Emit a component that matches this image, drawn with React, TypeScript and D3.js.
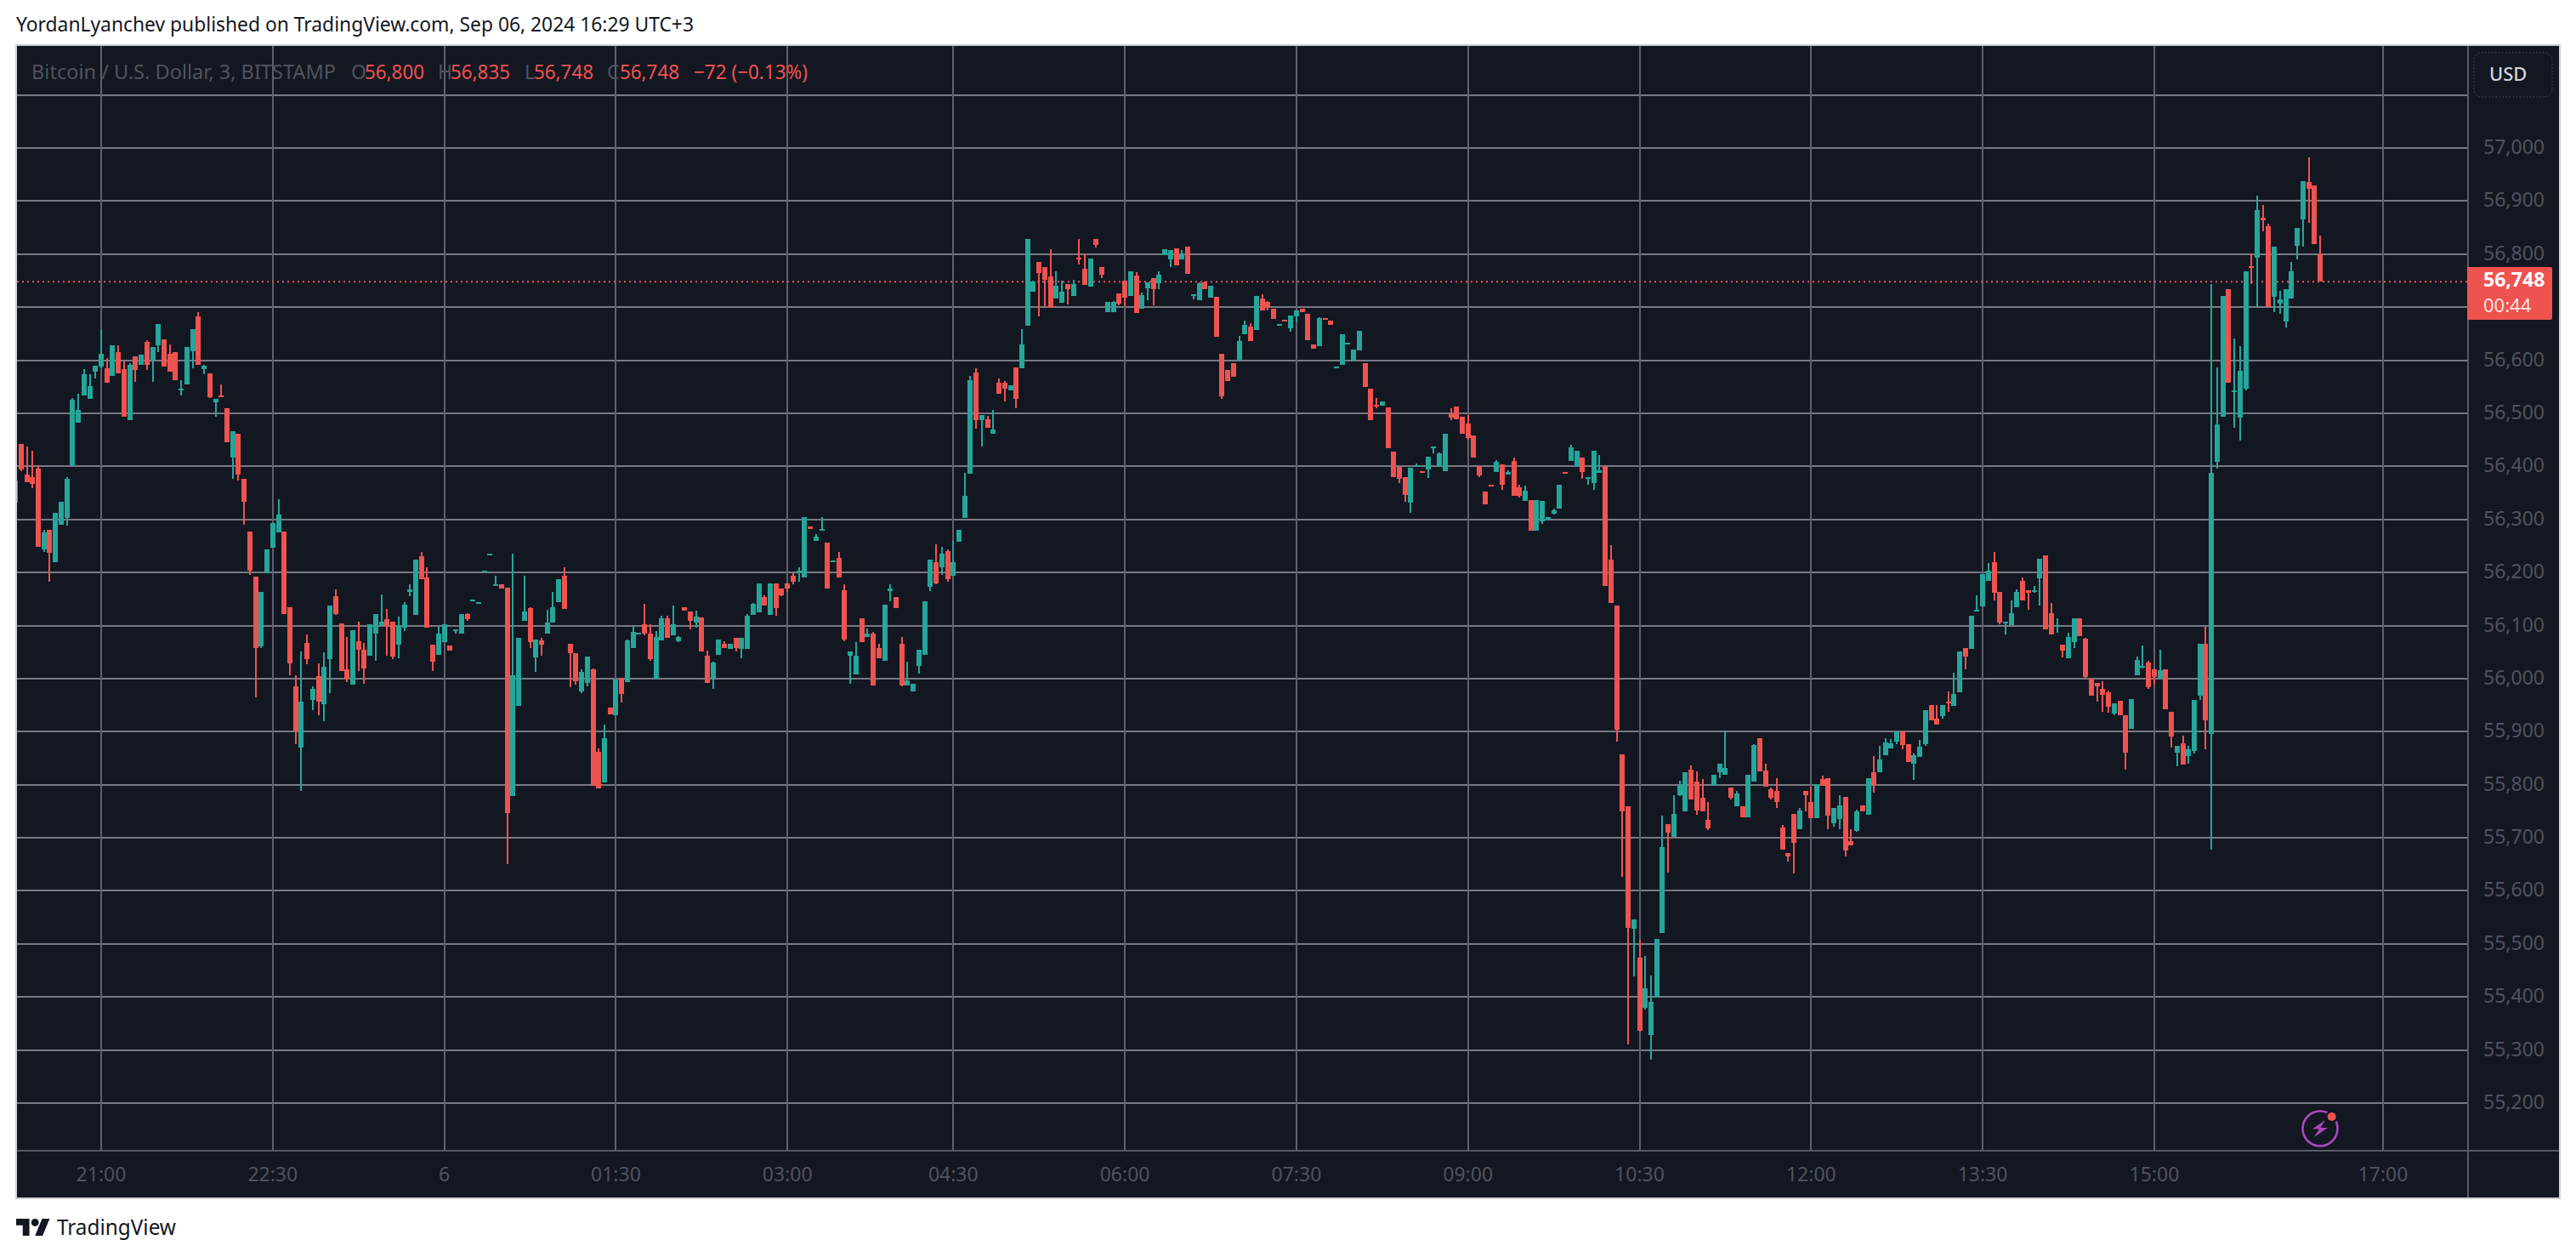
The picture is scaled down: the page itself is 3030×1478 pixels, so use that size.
import React from "react";
import * as d3 from "d3";

// Each row: [open, high, low, close]. One array per 90-minute stretch of 3-minute bars.
type Bar = [number, number, number, number];

const bars2015: Bar[] = [
  [56373,56373,56331,56331],[56442,56442,56391,56394],[56384,56437,56370,56370],[56380,56429,56359,56367],
  [56396,56402,56248,56249],[56244,56281,56238,56275],[56280,56280,56182,56237],[56220,56312,56220,56312],
  [56290,56334,56290,56334],[56302,56379,56289,56377],[56400,56528,56400,56525],[56483,56536,56483,56506],
  [56534,56583,56534,56574],[56527,56573,56527,56552],[56579,56590,56565,56589],
];
const bars2100: Bar[] = [
  [56588,56659,56585,56612],[56585,56604,56558,56558],[56571,56628,56571,56628],[56615,56628,56575,56575],
  [56584,56598,56493,56493],[56487,56594,56487,56592],[56608,56608,56560,56581],[56592,56610,56592,56610],
  [56634,56637,56581,56591],[56601,56625,56560,56625],[56628,56669,56615,56669],[56639,56639,56588,56588],
  [56612,56630,56579,56579],[56615,56615,56563,56563],[56543,56562,56534,56546],[56555,56625,56555,56625],
  [56617,56659,56585,56659],[56682,56690,56591,56591],[56584,56592,56573,56589],[56575,56575,56528,56531],
  [56520,56527,56493,56527],[56534,56555,56531,56531],[56509,56509,56446,56446],[56416,56467,56376,56467],
  [56461,56461,56373,56385],[56376,56376,56290,56333],[56277,56277,56195,56204],[56192,56192,55965,56057],
  [56061,56164,56058,56164],[56198,56243,56198,56243],
];
const bars2230: Bar[] = [
  [56247,56293,56247,56293],[56275,56338,56275,56309],[56277,56277,56121,56121],[56135,56135,56006,56028],
  [55986,56007,55876,55900],[55870,56051,55788,55956],[56067,56083,56027,56036],[55959,55985,55941,55981],
  [56004,56028,55931,55957],[55951,56049,55920,56022],[56036,56138,55973,56138],[56155,56168,56120,56122],
  [56104,56104,56014,56014],[56017,56079,55993,55999],[55988,56091,55988,56091],[56070,56108,56015,56054],
  [56054,56067,55990,56019],[56043,56102,56043,56102],[56085,56122,56033,56122],[56099,56158,56099,56107],
  [56112,56132,56043,56098],[56107,56107,56036,56042],[56064,56117,56038,56099],[56096,56144,56090,56139],
  [56163,56177,56155,56168],[56120,56224,56120,56224],[56230,56238,56188,56188],[56191,56210,56096,56096],
  [56064,56064,56015,56032],[56045,56098,56045,56084],
];
const bars0000: Bar[] = [
  [56069,56103,56069,56103],[56063,56063,56052,56052],[56089,56092,56084,56092],[56084,56122,56084,56122],
  [56122,56124,56109,56112],[56147,56149,56147,56149],[56142,56144,56142,56144],[56201,56204,56201,56204],
  [56233,56236,56233,56236],[56175,56194,56175,56178],[56177,56177,56170,56170],[56172,56172,55650,55747],
  [55778,56236,55778,56007],[55949,56077,55949,56077],[56109,56193,56109,56127],[56133,56135,56058,56069],
  [56040,56074,56013,56074],[56072,56076,56043,56064],[56085,56130,56085,56106],[56106,56164,56106,56135],
  [56144,56188,56144,56188],[56193,56210,56132,56132],[56066,56066,55983,56048],[56048,56048,55989,55995],
  [55975,56018,55973,56013],[55992,56042,55986,56042],[56018,56019,55798,55798],[55862,55869,55793,55793],
  [55805,55914,55805,55888],[55946,55946,55933,55933],
];
const bars0130: Bar[] = [
  [55931,55999,55931,55999],[56002,56002,55955,55971],[55994,56074,55994,56072],[56058,56100,56058,56088],
  [56084,56087,56084,56087],[56103,56141,56082,56085],[56085,56103,56034,56037],[56000,56090,56000,56079],
  [56072,56119,56072,56114],[56114,56119,56076,56076],[56082,56138,56082,56103],[56071,56080,56068,56079],
  [56135,56135,56128,56128],[56127,56127,56092,56109],[56106,56128,56096,56117],[56116,56116,56051,56051],
  [56043,56053,55992,55992],[56000,56032,55981,56031],[56045,56074,56045,56074],[56066,56071,56058,56058],
  [56056,56066,56056,56066],[56076,56076,56051,56058],[56056,56076,56039,56076],[56056,56122,56056,56119],
  [56120,56143,56120,56141],[56125,56180,56125,56180],[56153,56157,56138,56138],[56120,56180,56120,56180],
  [56180,56180,56119,56133],[56170,56170,56156,56157],
];
const bars0300: Bar[] = [
  [56180,56180,56164,56170],[56193,56199,56178,56183],[56201,56210,56183,56204],[56191,56305,56191,56305],
  [56286,56287,56282,56282],[56260,56273,56260,56268],[56279,56305,56279,56282],[56257,56257,56170,56170],
  [56220,56223,56220,56223],[56228,56239,56191,56191],[56167,56177,56071,56074],[56043,56051,55991,56051],
  [56008,56068,56008,56043],[56114,56114,56068,56068],[56079,56095,56079,56085],[56084,56088,55987,55987],
  [56058,56066,56039,56039],[56034,56140,56034,56140],[56165,56178,56146,56169],[56154,56154,56133,56133],
  [56066,56079,55986,55987],[55987,56032,55987,55997],[55975,55991,55975,55991],[56024,56055,56010,56055],
  [56045,56146,56045,56146],[56173,56225,56165,56225],[56219,56253,56178,56180],[56209,56248,56195,56235],
  [56240,56243,56183,56187],
];
const bars0430: Bar[] = [
  [56193,56259,56193,56220],[56258,56280,56258,56280],[56302,56387,56302,56344],[56386,56570,56386,56562],
  [56577,56585,56471,56487],[56487,56496,56437,56496],[56488,56495,56472,56472],[56461,56506,56461,56469],
  [56557,56565,56536,56536],[56557,56561,56522,56546],[56543,56553,56543,56553],[56586,56586,56509,56527],
  [56585,56658,56585,56629],[56665,56828,56665,56828],[56729,56750,56729,56748],[56785,56785,56682,56764],
  [56775,56775,56700,56751],[56758,56809,56698,56698],[56716,56767,56716,56740],[56708,56750,56708,56729],
  [56743,56743,56705,56734],[56721,56751,56721,56743],[56793,56828,56780,56790],[56772,56801,56742,56742],
  [56739,56791,56739,56791],[56828,56828,56812,56817],[56775,56775,56755,56761],[56690,56710,56690,56710],
  [56690,56711,56690,56710],[56726,56726,56703,56706],
];
const bars0600: Bar[] = [
  [56750,56750,56702,56718],[56721,56767,56721,56767],[56759,56766,56689,56689],[56697,56727,56697,56723],
  [56735,56747,56713,56747],[56755,56755,56703,56734],[56745,56767,56734,56761],[56798,56809,56798,56809],
  [56790,56807,56775,56807],[56811,56811,56779,56779],[56790,56807,56790,56801],[56814,56814,56763,56763],
  [56721,56724,56714,56724],[56713,56747,56713,56745],[56747,56749,56734,56734],[56718,56740,56718,56740],
  [56719,56719,56644,56644],[56612,56612,56527,56532],[56581,56581,56561,56561],[56594,56594,56569,56569],
  [56599,56646,56599,56636],[56649,56674,56649,56666],[56663,56670,56636,56636],[56657,56721,56657,56721],
  [56716,56724,56694,56694],[56710,56711,56694,56698],[56697,56697,56678,56678],[56665,56668,56665,56668],
  [56676,56676,56673,56673],[56660,56684,56654,56684],
];
const bars0730: Bar[] = [
  [56682,56694,56671,56694],[56697,56697,56690,56690],[56687,56687,56637,56637],[56629,56629,56621,56621],
  [56626,56681,56626,56679],[56679,56679,56676,56676],[56674,56674,56666,56666],[56585,56588,56585,56588],
  [56591,56649,56591,56649],[56629,56633,56629,56633],[56599,56620,56599,56620],[56618,56655,56618,56655],
  [56594,56594,56549,56549],[56546,56546,56487,56487],[56516,56528,56509,56512],[56514,56522,56514,56522],
  [56511,56511,56434,56434],[56427,56427,56379,56379],[56399,56399,56368,56376],[56379,56379,56334,56346],
  [56331,56397,56312,56397],[56399,56405,56399,56402],[56391,56391,56387,56387],[56394,56418,56378,56418],
  [56434,56437,56424,56437],[56399,56426,56399,56424],[56391,56461,56391,56461],[56499,56509,56487,56492],
  [56512,56512,56488,56488],[56494,56494,56462,56462],
];
const bars0900: Bar[] = [
  [56481,56496,56451,56454],[56459,56459,56416,56416],[56400,56400,56380,56383],[56352,56352,56329,56329],
  [56366,56366,56363,56363],[56390,56411,56390,56408],[56404,56404,56356,56366],[56385,56392,56385,56389],
  [56410,56416,56345,56345],[56360,56365,56341,56345],[56335,56363,56335,56354],[56337,56337,56278,56278],
  [56278,56337,56278,56337],[56297,56335,56292,56335],[56299,56305,56299,56305],[56311,56320,56309,56317],
  [56321,56366,56321,56366],[56390,56390,56387,56387],[56410,56441,56410,56436],[56399,56429,56399,56429],
  [56416,56416,56377,56389],[56377,56380,56365,56380],[56369,56429,56356,56429],[56387,56421,56387,56393],
  [56400,56400,56175,56175],[56225,56251,56143,56143],[56138,56138,55882,55903],[55857,55857,55627,55749],
  [55760,55760,55310,55530],[55528,55547,55439,55547],
];
const bars1030: Bar[] = [
  [55474,55508,55335,55337],[55379,55477,55376,55416],[55328,55441,55281,55391],[55398,55510,55398,55510],
  [55521,55741,55521,55682],[55726,55726,55635,55709],[55701,55781,55701,55745],[55780,55808,55778,55800],
  [55749,55823,55749,55823],[55828,55836,55773,55773],[55806,55825,55743,55751],[55776,55810,55749,55749],
  [55733,55767,55715,55717],[55798,55819,55798,55819],[55823,55840,55812,55840],[55819,55900,55819,55832],
  [55795,55795,55773,55775],[55760,55788,55760,55784],[55760,55760,55738,55738],[55738,55818,55738,55818],
  [55806,55877,55806,55875],[55887,55887,55825,55825],[55826,55840,55797,55797],[55791,55795,55772,55775],
  [55788,55812,55756,55767],[55719,55724,55677,55677],[55671,55671,55655,55665],[55745,55745,55633,55690],
  [55716,55756,55716,55752],[55788,55788,55750,55780],
];
const bars1200: Bar[] = [
  [55767,55796,55737,55737],[55737,55801,55737,55801],[55811,55817,55798,55798],[55812,55812,55716,55742],
  [55727,55756,55721,55756],[55736,55780,55716,55761],[55777,55777,55665,55676],[55694,55716,55686,55686],
  [55713,55753,55711,55750],[55761,55761,55750,55750],[55743,55812,55743,55812],[55824,55854,55785,55800],
  [55824,55873,55824,55848],[55855,55887,55855,55879],[55868,55886,55868,55878],[55881,55900,55876,55900],
  [55900,55900,55866,55874],[55876,55876,55842,55842],[55840,55858,55809,55856],[55852,55884,55852,55871],
  [55876,55941,55873,55941],[55950,55950,55922,55922],[55925,55950,55914,55914],[55929,55950,55925,55950],
  [55957,55976,55938,55954],[55949,56011,55949,55971],[55974,56051,55974,56051],[56058,56058,56018,56042],
  [56056,56119,56056,56119],[56127,56157,56127,56130],
];
const bars1330: Bar[] = [
  [56136,56197,56136,56197],[56184,56218,56184,56203],[56219,56238,56147,56161],[56163,56163,56103,56106],
  [56104,56107,56083,56107],[56101,56147,56101,56123],[56134,56168,56134,56163],[56184,56190,56147,56147],
  [56167,56167,56130,56162],[56164,56175,56161,56167],[56189,56226,56138,56226],[56233,56233,56093,56093],
  [56123,56142,56083,56083],[56100,56114,56087,56101],[56064,56064,56040,56053],[56039,56087,56039,56079],
  [56069,56114,56058,56114],[56114,56114,56080,56080],[56075,56077,55998,56003],[56000,56000,55968,55968],
  [55992,55992,55957,55986],[55981,55995,55938,55970],[55974,55978,55936,55947],[55934,55953,55931,55953],
  [55958,55958,55931,55931],[55931,55931,55828,55860],[55906,55961,55906,55961],[56006,56042,56006,56035],
  [56021,56063,56019,56024],[56030,56034,55981,55984],
];
const bars1500: Bar[] = [
  [56018,56018,55989,56003],[56000,56055,56000,56016],[56018,56018,55942,55942],[55938,55938,55870,55891],
  [55860,55873,55835,55873],[55878,55892,55838,55838],[55854,55873,55840,55867],[55864,55959,55859,55959],
  [55968,56066,55959,56066],[56066,56098,55866,55922],[55895,56743,55677,56388],[56409,56586,56395,56479],
  [56494,56721,56494,56721],[56734,56734,56557,56557],[56540,56641,56473,56543],[56492,56627,56449,56580],
  [56547,56767,56543,56767],[56778,56802,56743,56774],[56793,56911,56701,56883],[56868,56893,56843,56863],
  [56853,56857,56701,56701],[56720,56814,56691,56814],[56707,56730,56687,56714],[56673,56734,56662,56734],
  [56716,56786,56716,56767],[56815,56849,56790,56849],[56866,56938,56814,56938],[56936,56983,56859,56923],
  [56929,56929,56819,56819],[56800,56835,56748,56748],
];

const sessions = [bars2015, bars2100, bars2230, bars0000, bars0130, bars0300, bars0430, bars0600, bars0730, bars0900, bars1030, bars1200, bars1330, bars1500];

const timeLabels = ["21:00", "22:30", "6", "01:30", "03:00", "04:30", "06:00", "07:30", "09:00", "10:30", "12:00", "13:30", "15:00", "17:00"];
const timeBarIndex = [15, 45, 75, 105, 135, 164, 194, 224, 254, 284, 314, 344, 374, 414];
const priceTicks = [57000, 56900, 56800, 56700, 56600, 56500, 56400, 56300, 56200, 56100, 56000, 55900, 55800, 55700, 55600, 55500, 55400, 55300, 55200];
const priceHiddenByLastLabel = 56700;
const topGridPrice = 57100;
const lastPrice = 56748;
const countdown = "00:44";
const currency = "USD";
const symbolName = "Bitcoin / U.S. Dollar, 3, BITSTAMP";
const publishedLine = "YordanLyanchev published on TradingView.com, Sep 06, 2024 16:29 UTC+3";
const ohlcValues = ["56,800", "56,835", "56,748", "56,748"];
const ohlcLetters = ["O", "H", "L", "C"];
const changeText = "\u221272 (\u22120.13%)";

const BG = "#131722";
const UP = "#26a69a";
const DOWN = "#ef5350";
const GRID_H = "#787982";
const GRID_V = "#5e606b";
const AXIS_LINE = "#575a65";
const AXIS_TEXT = "#50535e";
const FONT = "'Noto Sans', sans-serif";

const bars: Bar[] = sessions.flat();

const LEFT = 20, RIGHT = 3010, TOP = 54, BOTTOM = 1408, AXIS_X = 2903, AXIS_Y = 1353;

export default function App() {
  const x = d3.scaleLinear().domain([15, 414]).range([119, 2803]);
  const y = d3.scaleLinear().domain([57000, 55200]).range([174, 1297]);
  const fmt = d3.format(",");
  const legendXs = [413, 515, 617, 714];
  const legendValueXs = [429, 530, 628, 729];

  return (
    <svg
      width={3030}
      height={1478}
      viewBox="0 0 3030 1478"
      style={{ position: "absolute", left: 0, top: 0, display: "block", background: "#fff" }}
      fontFamily={FONT}
    >
      <defs>
        <clipPath id="plot">
          <rect x={LEFT} y={TOP} width={AXIS_X - LEFT} height={AXIS_Y - TOP} />
        </clipPath>
      </defs>
      <text x={19} y={37} fontSize={24} fill="#131722" textLength={797} lengthAdjust="spacingAndGlyphs">{publishedLine}</text>

      <rect x={LEFT - 1} y={TOP - 1} width={RIGHT - LEFT + 2} height={BOTTOM - TOP + 2} fill={BG} stroke="#cfd1d8" strokeWidth={2} />

      <g shapeRendering="crispEdges">
        {[topGridPrice, ...priceTicks].map((p) => (
          <rect key={p} x={LEFT} y={Math.round(y(p)) - 1} width={AXIS_X - LEFT} height={2} fill={GRID_H} />
        ))}
        {timeBarIndex.map((i) => (
          <rect key={i} x={Math.round(x(i)) - 1} y={TOP} width={2} height={AXIS_Y - TOP} fill={GRID_V} />
        ))}
      </g>

      <line x1={LEFT} x2={AXIS_X} y1={y(lastPrice)} y2={y(lastPrice)} stroke={DOWN} strokeWidth={2} strokeDasharray="2 4" />

      <g clipPath="url(#plot)" shapeRendering="crispEdges">
        {bars.map((b, i) => {
          const [o, h, l, c] = b;
          const col = c >= o ? UP : DOWN;
          const cx = Math.round(x(i));
          const top = Math.round(y(Math.max(o, c)));
          const bot = Math.round(y(Math.min(o, c)));
          const wt = Math.round(y(h));
          const wb = Math.round(y(l));
          return (
            <g key={i} fill={col}>
              <rect x={cx - 1} y={wt} width={2} height={Math.max(wb - wt, 1)} />
              <rect x={cx - 3} y={top} width={6} height={Math.max(bot - top, 2)} />
            </g>
          );
        })}
      </g>

      <g shapeRendering="crispEdges">
        <rect x={LEFT} y={AXIS_Y - 1} width={RIGHT - LEFT} height={2} fill={AXIS_LINE} />
        <rect x={AXIS_X - 1} y={TOP} width={2} height={BOTTOM - TOP} fill={AXIS_LINE} />
      </g>

      <text x={37} y={93} fontSize={23} fill="#50535e" textLength={358} lengthAdjust="spacingAndGlyphs">{symbolName}</text>
      {ohlcLetters.map((letter, k) => (
        <g key={letter}>
          <text x={legendXs[k]} y={93} fontSize={23} fill="#50535e">{letter}</text>
          <text x={legendValueXs[k]} y={93} fontSize={23} fill={DOWN} textLength={70} lengthAdjust="spacingAndGlyphs">{ohlcValues[k]}</text>
        </g>
      ))}
      <text x={816} y={93} fontSize={23} fill={DOWN} textLength={134} lengthAdjust="spacingAndGlyphs">{changeText}</text>

      {priceTicks.filter((p) => p !== priceHiddenByLastLabel).map((p) => (
        <text key={p} x={2921} y={y(p) + 7} fontSize={23} fill={AXIS_TEXT}>{fmt(p)}</text>
      ))}
      {timeLabels.map((t, k) => (
        <text key={t} x={x(timeBarIndex[k])} y={1389} fontSize={23} textAnchor="middle" fill={AXIS_TEXT}>{t}</text>
      ))}

      <rect x={2910} y={62} width={92} height={52} rx={9} fill="none" stroke="#50535e" strokeWidth={1} strokeDasharray="1.5 2.5" />
      <text x={2928} y={95} fontSize={22} fontWeight={500} fill="#d1d4dc">{currency}</text>

      <path d={`M2902 314H3000a2 2 0 0 1 2 2V374a2 2 0 0 1 -2 2H2902Z`} fill={DOWN} />
      <text x={2921} y={337} fontSize={23} fontWeight={700} fill="#ffffff">{fmt(lastPrice)}</text>
      <text x={2921} y={367} fontSize={22} fill="#ffffff" fillOpacity={0.85}>{countdown}</text>

      <g transform="translate(2729,1327)">
        <circle r={20.5} fill="none" stroke="#ab47bc" strokeWidth={2.6} />
        <path d="M6-10 L-9 0.5 L-1 0.5 L-7.5 10.5 L9-1 L0.5-1 Z" fill="#ab47bc" />
        <circle cx={13.7} cy={-14} r={7.5} fill={BG} />
        <circle cx={13.7} cy={-14} r={5} fill={DOWN} />
      </g>

      <g transform="translate(19,1428.6) scale(1.11)" fill="#131722">
        <path d="M14 22H7V11H0V4h14v18zM28 22h-8l7.5-18h8L28 22z" />
        <circle cx={20} cy={8} r={4} />
      </g>
      <text x={67} y={1452} fontSize={26} fill="#131722" textLength={140} lengthAdjust="spacingAndGlyphs">TradingView</text>
    </svg>
  );
}
